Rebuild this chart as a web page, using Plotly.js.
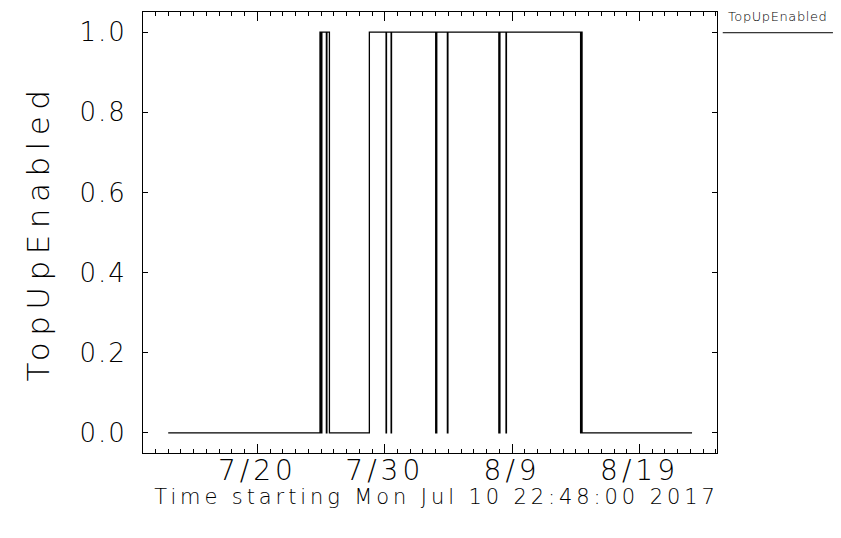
<!DOCTYPE html>
<html>
<head>
<meta charset="utf-8">
<script src="https://cdn.plot.ly/plotly-3.0.1.min.js"></script>
<style>
body { margin:0; padding:0; background:#fff; }
.ytitle { letter-spacing: 6.5px; }
.xtick text { letter-spacing: 4px; }
.ytick text { letter-spacing: 2px; }
.annotation-text { letter-spacing: 0.6px; }
g.annotation[data-index="1"] .annotation-text { letter-spacing: 3.9px; }
</style>
</head>
<body>
<div id="chart" style="width:841px;height:538px;"></div>
<script>
// Step data for TopUpEnabled (time, value)
const times = [
  "2017-07-13 00:00", "2017-07-24 22:00", "2017-07-25 00:00", "2017-07-25 01:30",
  "2017-07-25 10:00", "2017-07-25 11:00", "2017-07-25 15:45", "2017-07-28 19:00",
  "2017-07-30 02:30", "2017-07-30 03:15", "2017-07-30 12:00", "2017-07-30 12:45",
  "2017-08-03 00:00", "2017-08-03 02:00", "2017-08-03 22:00", "2017-08-03 23:00",
  "2017-08-07 23:00", "2017-08-08 01:00", "2017-08-08 12:30", "2017-08-08 13:15",
  "2017-08-14 09:00", "2017-08-14 10:30", "2017-08-14 11:45", "2017-08-23 03:00"
];
const values = [
  0, 1, 0, 1,
  0, 1, 0, 1,
  0, 1, 0, 1,
  0, 1, 0, 1,
  0, 1, 0, 1,
  0, 1, 0, 0
];
const seriesName = "TopUpEnabled";
const xRange = ["2017-07-11 00:30", "2017-08-25 02:00"];
const yTicks = [0.0, 0.2, 0.4, 0.6, 0.8, 1.0];
const xTitle = "Time starting Mon Jul 10 22:48:00 2017";
const yTitle = "TopUpEnabled";

const font = "DejaVu Sans, sans-serif";

const trace = {
  x: times, y: values, type: "scatter", mode: "lines",
  line: {shape: "hv", color: "#000", width: 1.3},
  name: seriesName, showlegend: false
};

const layout = {
  width: 841, height: 538, autosize: false,
  margin: {l: 143, r: 124, t: 12, b: 85, pad: 0},
  paper_bgcolor: "#fff", plot_bgcolor: "#fff",
  font: {family: font, color: "#000", weight: 200},
  xaxis: {
    type: "date", range: xRange,
    tick0: "2017-07-20", dtick: 10 * 86400000,
    tickformat: "%-m/%-d",
    ticks: "inside", ticklen: 9, tickwidth: 1, tickcolor: "#000",
    minor: {dtick: 86400000, tick0: "2017-07-20", ticks: "inside", ticklen: 4, tickwidth: 1, tickcolor: "#000", showgrid: false},
    showline: true, linecolor: "#000", linewidth: 1, mirror: "ticks",
    showgrid: false, zeroline: false,
    tickfont: {size: 28, family: font, color: "#000", weight: 200},
    ticklabelstandoff: -8
  },
  yaxis: {
    range: [-0.05, 1.05],
    tickvals: yTicks, tickformat: ".1f",
    ticks: "inside", ticklen: 5, tickwidth: 1, tickcolor: "#000",
    showline: true, linecolor: "#000", linewidth: 1, mirror: "ticks",
    showgrid: false, zeroline: false,
    tickfont: {size: 26, family: font, color: "#000", weight: 200},
    ticklabelstandoff: 10,
    title: {text: yTitle, font: {size: 31, family: font, color: "#000", weight: 200}, standoff: 20}
  },
  annotations: [{
    xref: "paper", yref: "paper", x: 1.015, y: 1.0, xanchor: "left", yanchor: "middle",
    text: seriesName, showarrow: false, font: {size: 13, family: font, color: "#000", weight: 200}, yshift: -4
  }, {
    xref: "paper", yref: "paper", x: 0.5, y: 0, xanchor: "center", yanchor: "middle",
    text: xTitle, showarrow: false, font: {size: 21, family: font, color: "#000", weight: 200},
    yshift: -44, xshift: 6
  }],
  shapes: [{
    type: "line", xref: "paper", yref: "paper",
    x0: 1.01, x1: 1.202, y0: 0.953, y1: 0.953,
    line: {color: "#000", width: 1}
  }]
};

Plotly.newPlot("chart", [trace], layout, {staticPlot: true, displayModeBar: false});
</script>
</body>
</html>
